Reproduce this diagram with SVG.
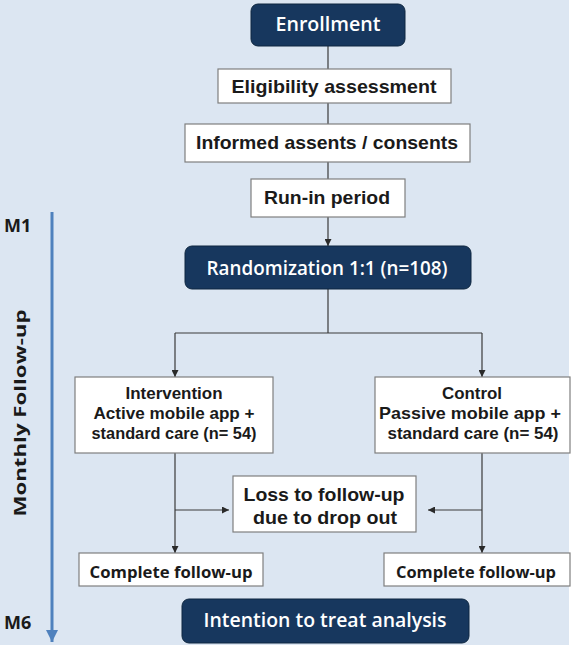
<svg xmlns="http://www.w3.org/2000/svg" width="574" height="648" viewBox="0 0 574 648">
<style>
.bg{fill:#dce6f2}
.dark{fill:#17375e;stroke:#0f2740;stroke-width:1}
.box{fill:#ffffff;stroke:#7f7f7f;stroke-width:1.2}
.dt{font-family:"Open Sans","Noto Sans",sans-serif;font-weight:600;font-size:19px;fill:#ffffff;text-anchor:middle}
.at{font-family:"Liberation Sans",Arial,sans-serif;font-weight:bold;font-size:18.5px;fill:#1a1a1a;text-anchor:middle}
.st{font-family:"Liberation Sans",Arial,sans-serif;font-weight:bold;font-size:16.5px;fill:#1a1a1a;text-anchor:middle}
.ct{font-family:"Open Sans","Noto Sans",sans-serif;font-weight:700;font-size:16.5px;fill:#1a1a1a;text-anchor:middle}
.ln{stroke:#3a3a3a;stroke-width:1.2;fill:none}
.lab{font-family:"Open Sans","Noto Sans",sans-serif;font-weight:bold;font-size:18px;fill:#1a1a1a}
</style>
<defs>
<marker id="ah" viewBox="0 0 10 10" refX="10" refY="5" markerWidth="7" markerHeight="7" markerUnits="userSpaceOnUse" orient="auto">
<path d="M0,0 L10,5 L0,10 z" fill="#2a2a2a"/>
</marker>
<marker id="bh" viewBox="0 0 10 10" refX="10" refY="5" markerWidth="4" markerHeight="4" orient="auto">
<path d="M0,0 L10,5 L0,10 z" fill="#4f81bd"/>
</marker>
</defs>
<rect class="bg" x="0" y="0" width="569" height="645"/>

<g id="timeline">
<line x1="52" y1="212" x2="52" y2="642" stroke="#4f81bd" stroke-width="3" marker-end="url(#bh)"/>
<text class="lab" x="4" y="232">M1</text>
<text class="lab" x="4" y="629">M6</text>
<text class="ct" font-size="17" transform="translate(26,413) rotate(-90)" textLength="207" lengthAdjust="spacingAndGlyphs">Monthly  Follow-up</text>
</g>

<g id="connectors">
<line class="ln" x1="328" y1="46" x2="328" y2="69"/>
<line class="ln" x1="328" y1="103" x2="328" y2="124"/>
<line class="ln" x1="328" y1="162" x2="328" y2="179"/>
<line class="ln" x1="328" y1="217" x2="328" y2="246" marker-end="url(#ah)"/>
<polyline class="ln" points="328,289 328,333"/>
<line class="ln" x1="175" y1="333" x2="482" y2="333"/>
<line class="ln" x1="175" y1="333" x2="175" y2="377" marker-end="url(#ah)"/>
<line class="ln" x1="482" y1="333" x2="482" y2="377" marker-end="url(#ah)"/>
<line class="ln" x1="175" y1="453" x2="175" y2="553" marker-end="url(#ah)"/>
<line class="ln" x1="482" y1="453" x2="482" y2="553" marker-end="url(#ah)"/>
<line class="ln" x1="175" y1="510" x2="229" y2="510" marker-end="url(#ah)"/>
<line class="ln" x1="482" y1="510" x2="428" y2="510" marker-end="url(#ah)"/>
</g>

<g id="enrollment">
<rect class="dark" x="251" y="4" width="154" height="42" rx="7"/>
<text class="dt" x="328" y="31" textLength="105" lengthAdjust="spacingAndGlyphs">Enrollment</text>
</g>
<g id="eligibility">
<rect class="box" x="218" y="69" width="233" height="34"/>
<text class="at" x="334" y="93" textLength="205" lengthAdjust="spacingAndGlyphs">Eligibility assessment</text>
</g>
<g id="consents">
<rect class="box" x="185" y="124" width="285" height="38"/>
<text class="at" x="327" y="149" textLength="262" lengthAdjust="spacingAndGlyphs">Informed assents / consents</text>
</g>
<g id="runin">
<rect class="box" x="251" y="179" width="154" height="38"/>
<text class="at" x="327" y="204" textLength="126" lengthAdjust="spacingAndGlyphs">Run-in period</text>
</g>
<g id="randomization">
<rect class="dark" x="185" y="246" width="286" height="43" rx="7"/>
<text class="dt" x="327" y="275" textLength="241" lengthAdjust="spacingAndGlyphs">Randomization 1:1 (n=108)</text>
</g>
<g id="intervention">
<rect class="box" x="75" y="377" width="198" height="76"/>
<text class="st" x="174" y="399" textLength="97" lengthAdjust="spacingAndGlyphs">Intervention</text>
<text class="st" x="174" y="419" textLength="161" lengthAdjust="spacingAndGlyphs">Active mobile app +</text>
<text class="st" x="174" y="439" textLength="165" lengthAdjust="spacingAndGlyphs">standard care (n= 54)</text>
</g>
<g id="control">
<rect class="box" x="375" y="377" width="195" height="76"/>
<text class="st" x="472" y="399" textLength="60" lengthAdjust="spacingAndGlyphs">Control</text>
<text class="st" x="470" y="419" textLength="182" lengthAdjust="spacingAndGlyphs">Passive mobile app +</text>
<text class="st" x="473" y="439" textLength="171" lengthAdjust="spacingAndGlyphs">standard care (n= 54)</text>
</g>
<g id="loss">
<rect class="box" x="233" y="476" width="183" height="56"/>
<text class="at" x="324" y="501" textLength="161" lengthAdjust="spacingAndGlyphs">Loss to follow-up</text>
<text class="at" x="325" y="524" textLength="144" lengthAdjust="spacingAndGlyphs">due to drop out</text>
</g>
<g id="complete-left">
<rect class="box" x="79" y="553" width="184" height="33"/>
<text class="ct" x="171" y="578" textLength="163" lengthAdjust="spacingAndGlyphs">Complete follow-up</text>
</g>
<g id="complete-right">
<rect class="box" x="384" y="553" width="186" height="33"/>
<text class="ct" x="476" y="578" textLength="160" lengthAdjust="spacingAndGlyphs">Complete follow-up</text>
</g>
<g id="itt">
<rect class="dark" x="182" y="599" width="287" height="44" rx="7"/>
<text class="dt" x="325" y="627" textLength="243" lengthAdjust="spacingAndGlyphs">Intention to treat analysis</text>
</g>
</svg>
